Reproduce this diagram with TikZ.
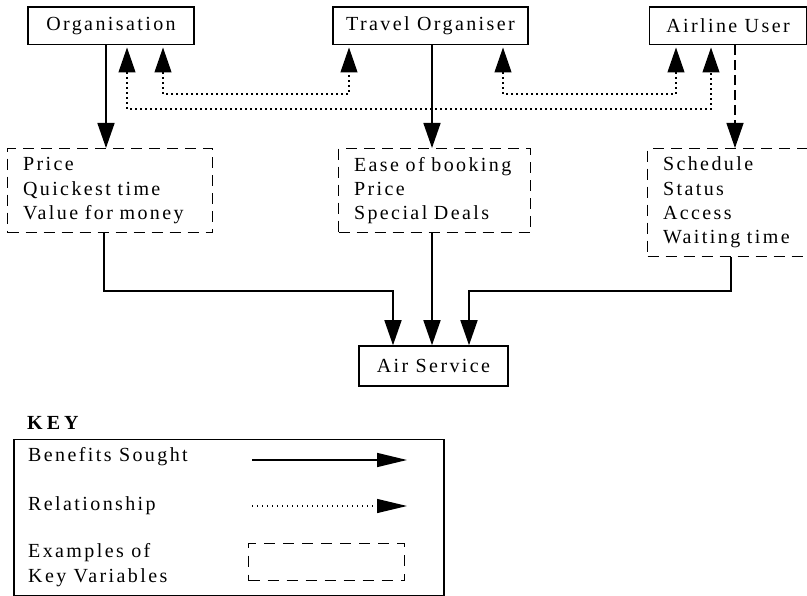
\documentclass[tikz,border=0pt]{standalone}
\usepackage{fontspec}
\setmainfont{Liberation Serif}[LetterSpace=12]
\usetikzlibrary{arrows.meta}
\begin{document}
\begin{tikzpicture}[x=1pt,y=-1pt,
  txt/.style={font=\fontsize{20}{24.4}\selectfont},
  topbox/.style={txt, draw, line width=1.5pt, minimum height=37.5pt, inner sep=0pt},
  varbox/.style={txt, draw, line width=1.1pt, dash pattern=on 11pt off 7pt, align=left,
     anchor=north west, inner xsep=15.5pt, inner ysep=0pt},
  bigtip/.tip={Triangle[length=25pt,width=17pt]},
  benefit/.style={line width=1.6pt, -bigtip},
  relate/.style={line width=1.2pt, dash pattern=on 1.4pt off 3.6pt,
     bigtip-bigtip, shorten <=2pt, shorten >=2pt},
  varline/.style={line width=1.3pt, dash pattern=on 10pt off 5pt, -bigtip},
  keytxt/.style={txt, anchor=west, inner sep=0pt},
]
\useasboundingbox (0,0) rectangle (807,596);

% top boxes
\node[topbox, minimum width=166pt] (org) at (111,26) {Organisation};
\node[topbox, minimum width=195pt] (trav) at (430.5,26) {Travel Organiser};
\node[topbox, minimum width=157pt] (au) at (728,26) {Airline User};

% variable boxes
\node[varbox, text width=174pt, minimum height=84pt] (v1) at (7,148) {Price\\Quickest time\\Value for money};
\node[varbox, text width=161pt, minimum height=84pt] (v2) at (338,148) {Ease of booking\\Price\\Special Deals};
\node[varbox, text width=139pt, minimum height=108pt] (v3) at (647,148) {Schedule\\Status\\Access\\Waiting time};

% air service
\node[topbox, minimum width=149pt, minimum height=40pt] (air) at (433.5,366) {Air Service};

% x positions
\coordinate (c104) at (104,0);
\coordinate (c106) at (106,0);
\coordinate (c127) at (127,0);
\coordinate (c163) at (163,0);
\coordinate (c349) at (349,0);
\coordinate (c393) at (393,0);
\coordinate (c432) at (432,0);
\coordinate (c469) at (469,0);
\coordinate (c503) at (503,0);
\coordinate (c676) at (676,0);
\coordinate (c711) at (711,0);
\coordinate (c731) at (731,0);
\coordinate (c735) at (735,0);

% benefits sought
\draw[benefit] (org.south -| c106) -- (v1.north -| c106);
\draw[benefit] (trav.south -| c432) -- (v2.north -| c432);
\draw[varline] (au.south -| c735) -- (v3.north -| c735);

% relationships
\draw[relate] (org.south -| c163) -- ++(0,48.5) -| (trav.south -| c349);
\draw[relate] (trav.south -| c503) -- ++(0,48.5) -| (au.south -| c676);
\draw[relate] (org.south -| c127) -- ++(0,63.5) -| (au.south -| c711);

% to air service
\draw[benefit] (v1.south -| c104) -- ++(0,58) -| (air.north -| c393);
\draw[benefit] (v2.south -| c432) -- (air.north -| c432);
\draw[benefit] (v3.south -| c731) -- ++(0,34) -| (air.north -| c469);

% key
\node[txt, anchor=west, inner sep=0pt, font=\fontsize{20}{24}\selectfont\bfseries\addfontfeature{LetterSpace=20}] (keyt) at (27,423) {KEY};
\node[draw, line width=1.5pt, minimum width=430pt, minimum height=156pt, anchor=north west, inner sep=0pt] (keybox) at (13,439) {};
\node[keytxt] (k1) at (28,457) {Benefits Sought};
\node[keytxt] (k2) at (28,506) {Relationship};
\node[keytxt, align=left] (k3) at (28,565) {Examples of\\Key Variables};
\coordinate (k1s) at (252,460);
\coordinate (k1e) at (407,460);
\coordinate (k2s) at (252,506);
\coordinate (k2e) at (407,506);
\draw[line width=1.6pt, -{Triangle[length=30pt,width=14pt]}] (k1s) -- (k1e);
\draw[line width=1.2pt, dash pattern=on 1.4pt off 3.6pt, -{Triangle[length=30pt,width=14pt]}] (k2s) -- (k2e);
\node[draw, line width=1.1pt, dash pattern=on 11pt off 8pt, minimum width=156pt, minimum height=37pt, anchor=north west, inner sep=0pt] (k3box) at (248,543) {};
\end{tikzpicture}
\end{document}
